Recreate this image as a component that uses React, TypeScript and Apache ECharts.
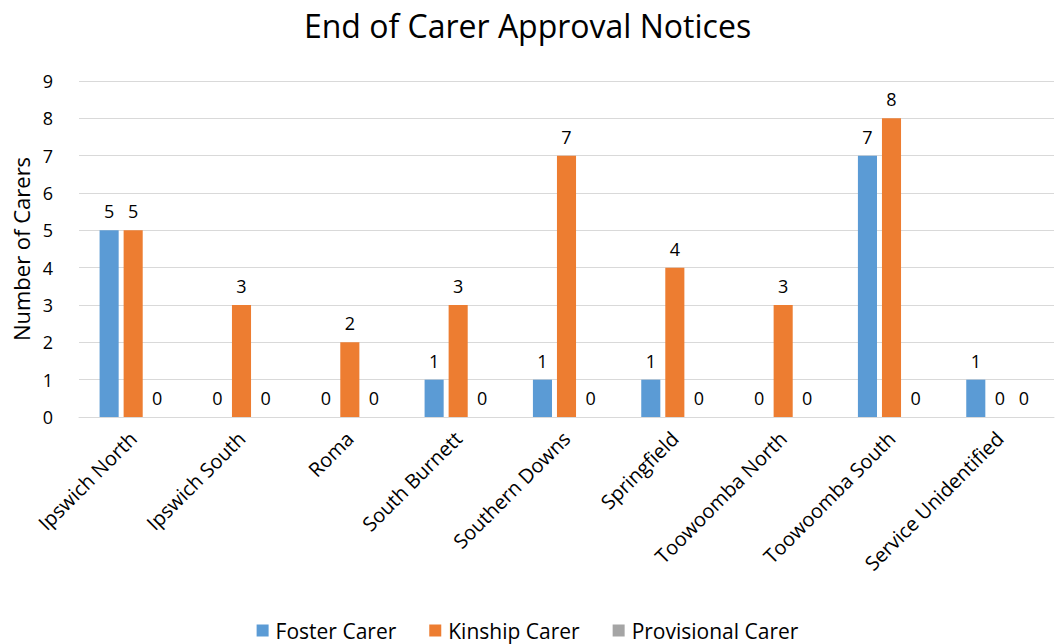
import React, { useEffect, useRef } from "react";
import * as echarts from "echarts";

const categories = [
  "Ipswich North",
  "Ipswich South",
  "Roma",
  "South Burnett",
  "Southern Downs",
  "Springfield",
  "Toowoomba North",
  "Toowoomba South",
  "Service Unidentified",
];
const fosterCarer = [5, 0, 0, 1, 1, 1, 0, 7, 1];
const kinshipCarer = [5, 3, 2, 3, 7, 4, 3, 8, 0];
const provisionalCarer = [0, 0, 0, 0, 0, 0, 0, 0, 0];
const yTicks = [0, 1, 2, 3, 4, 5, 6, 7, 8, 9];

const FONT = "'Open Sans', sans-serif";

export default function App() {
  const ref = useRef<HTMLDivElement>(null);
  useEffect(() => {
    const chart = echarts.init(ref.current!, null, { renderer: "svg" });
    const label = {
      show: true,
      position: "top" as const,
      distance: 10,
      color: "#000",
      fontSize: 18,
      fontFamily: FONT,
    };
    const mk = (name: string, data: number[], color: string) => ({
      name,
      type: "bar" as const,
      data,
      barGap: "26%",
      barCategoryGap: "38%",
      itemStyle: { color },
      label,
    });
    chart.setOption({
      animation: false,
      title: {
        text: "End of Carer Approval Notices",
        left: "center",
        top: 4,
        textStyle: { fontSize: 32, fontWeight: "normal", color: "#000", fontFamily: FONT },
      },
      legend: {
        bottom: -2,
        left: "center",
        itemWidth: 12,
        itemHeight: 12,
        itemGap: 33,
        icon: "rect",
        textStyle: { fontSize: 21, color: "#000", fontFamily: FONT, padding: [0, 0, 0, 2] },
        data: ["Foster Carer", "Kinship Carer", "Provisional Carer"],
      },
      grid: { left: 79, right: 1, top: 81, bottom: 644 - 417, outerBoundsMode: "none", containLabel: false },
      xAxis: {
        type: "category",
        data: categories,
        axisLine: { lineStyle: { color: "#d9d9d9" } },
        axisTick: { show: false },
        axisLabel: {
          rotate: 45,
          interval: 0,
          fontSize: 20,
          color: "#000",
          fontFamily: FONT,
          margin: 18,
        },
      },
      yAxis: {
        type: "value",
        min: yTicks[0],
        max: yTicks[yTicks.length - 1],
        interval: 1,
        name: "Number of Carers",
        nameLocation: "middle",
        nameGap: 47,
        nameTextStyle: { fontSize: 22, color: "#000", fontFamily: FONT },
        axisLabel: { fontSize: 18, color: "#000", fontFamily: FONT, margin: 26 },
        splitLine: { lineStyle: { color: "#d9d9d9" } },
        axisLine: { show: false },
        axisTick: { show: false },
      },
      series: [
        mk("Foster Carer", fosterCarer, "#5b9bd5"),
        mk("Kinship Carer", kinshipCarer, "#ed7d31"),
        mk("Provisional Carer", provisionalCarer, "#a5a5a5"),
      ],
    });
    return () => chart.dispose();
  }, []);
  return <div ref={ref} style={{ width: 1055, height: 644, position: "absolute", left: 0, top: 0 }} />;
}
